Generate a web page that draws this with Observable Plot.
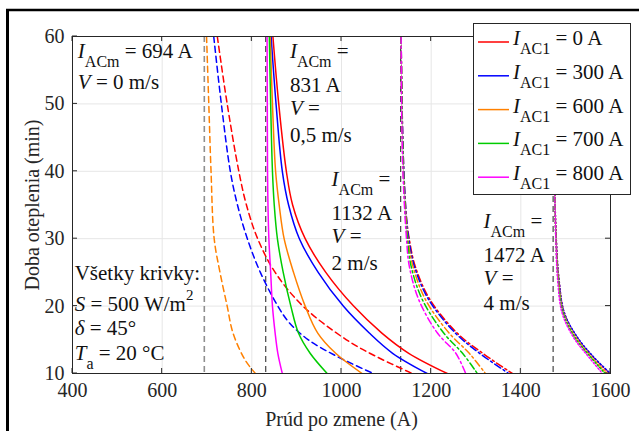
<!DOCTYPE html>
<html><head><meta charset="utf-8">
<script src="https://cdn.jsdelivr.net/npm/d3@7"></script>
<script src="https://cdn.jsdelivr.net/npm/@observablehq/plot@0.6"></script>
<style>
body{margin:0;background:#fff;}
#wrap{position:relative;width:639px;height:431px;overflow:hidden;background:#fff;}
</style></head><body><div id="wrap"></div>
<script>
// ---- data ----
const xTicks = [400, 600, 800, 1000, 1200, 1400, 1600];
const yTicks = [10, 20, 30, 40, 50, 60];
const seriesLabels = ["0 A", "300 A", "600 A", "700 A", "800 A"];
const seriesColors = ["#ff0000", "#0000ff", "#ff8000", "#00cc00", "#ff00ff"];
const asymptotes = [694, 831, 1132, 1472];

// V = 0 m/s (dashed), only I_AC1 = 0, 300, 600 A
const tV0r = [60, 50, 40, 35, 30, 25, 20, 15, 12.5, 10];
const iV0_0   = [723, 745, 771, 788, 813, 852, 914, 1011, 1078, 1158];
const tV0b = [60, 50, 40, 35, 30, 25, 20, 17.5, 15, 12.5, 10];
const iV0_300 = [715, 732, 752, 768, 790, 819, 858, 884, 926, 991, 1071];
const tV0o = [60, 50, 40, 30, 25, 20, 16, 12, 10];
const iV0_600 = [699, 704, 709, 716, 729, 745, 758, 785, 808];

// V = 0,5 m/s (solid)
const tV05 = [60, 50, 40, 35, 30, 25, 20, 16, 13, 10];
const iV05_0   = [847, 860, 877, 891, 919, 965, 1027, 1090, 1150, 1236];
const iV05_300 = [843, 854, 868, 882, 906, 948, 1004, 1062, 1114, 1191];
const iV05_600 = [841, 846, 853, 861, 872, 893, 919, 947, 987, 1046];
const iV05_700 = [839, 842, 846, 850, 857, 870, 887, 904, 930, 968];
const iV05_800 = [834, 834.5, 835, 836, 838, 842, 846, 852, 858, 868];

// V = 2 m/s (dash-dot)
const tV2 = [60, 50, 40, 33, 30, 26, 21, 16, 13, 10];
const iV2_0   = [1133, 1135, 1139, 1145, 1151, 1164, 1197, 1258, 1315, 1381];
const iV2_300 = [1133, 1135, 1139, 1145, 1150, 1162, 1194, 1254, 1308, 1373];
const iV2_600 = [1133, 1134.5, 1138, 1144, 1148, 1159, 1187, 1240, 1285, 1321];
const iV2_700 = [1133, 1134.5, 1138, 1143, 1147, 1155, 1180, 1228, 1270, 1303];
const iV2_800 = [1133, 1134, 1137, 1142, 1145, 1151, 1172, 1214, 1255, 1277];

// V = 4 m/s (dotted)
const tV4 = [60, 50, 40, 30, 24, 19, 15.4, 12.4, 10];
const iV4_0   = [1473, 1474, 1475, 1479, 1485, 1497, 1525, 1562, 1598];
const iV4_300 = [1473, 1474, 1475, 1479, 1485, 1497, 1526, 1563, 1600];
const iV4_600 = [1473, 1474, 1475, 1478.5, 1484, 1495, 1522, 1558, 1592];
const iV4_700 = [1473, 1474, 1475, 1478, 1483, 1494, 1520, 1556, 1588];
const iV4_800 = [1473, 1474, 1475, 1478, 1482, 1492, 1517, 1552, 1582];

// annotation text (x in A, y in min = baseline position)
const notes = [
  {x: 413, t: 56.74, parts: [["I","i"],["ACm","sub"],[" = 694 A",""]]},
  {x: 413, t: 52.14, parts: [["V","i"],[" = 0 m/s",""]]},
  {x: 886, t: 56.74, parts: [["I","i"],["ACm","sub"],[" =",""]]},
  {x: 886, t: 51.69, parts: [["831 A",""]]},
  {x: 886, t: 48.28, parts: [["V","i"],[" =",""]]},
  {x: 886, t: 44.27, parts: [["0,5 m/s",""]]},
  {x: 979, t: 37.74, parts: [["I","i"],["ACm","sub"],[" =",""]]},
  {x: 979, t: 32.70, parts: [["1132 A",""]]},
  {x: 979, t: 29.29, parts: [["V","i"],[" =",""]]},
  {x: 979, t: 25.28, parts: [["2 m/s",""]]},
  {x: 1318, t: 31.51, parts: [["I","i"],["ACm","sub"],[" =",""]]},
  {x: 1318, t: 26.47, parts: [["1472 A",""]]},
  {x: 1318, t: 23.06, parts: [["V","i"],[" =",""]]},
  {x: 1318, t: 19.35, parts: [["4 m/s",""]]},
  {x: 406, t: 23.80, parts: [["Všetky krivky:",""]]},
  {x: 406, t: 19.20, parts: [["S","i"],[" = 500 W/m",""],["2","sup"]]},
  {x: 406, t: 15.64, parts: [["δ","i"],[" = 45°",""]]},
  {x: 406, t: 11.93, parts: [["T","i"],["a","sub"],[" = 20 °C",""]]}
];

// ---- build curves ----
const curves = [
  {t: tV0r, i: iV0_0,   k: 0, dash: "6,4"},
  {t: tV0b, i: iV0_300, k: 1, dash: "6,4"},
  {t: tV0o, i: iV0_600, k: 2, dash: "6,4"},
  {t: tV05, i: iV05_0, k: 0}, {t: tV05, i: iV05_300, k: 1}, {t: tV05, i: iV05_600, k: 2},
  {t: tV05, i: iV05_700, k: 3}, {t: tV05, i: iV05_800, k: 4},
  {t: tV2, i: iV2_0, k: 0, dash: "7,3,2,3"}, {t: tV2, i: iV2_300, k: 1, dash: "7,3,2,3"},
  {t: tV2, i: iV2_600, k: 2, dash: "7,3,2,3"}, {t: tV2, i: iV2_700, k: 3, dash: "7,3,2,3"},
  {t: tV2, i: iV2_800, k: 4, dash: "7,3,2,3"},
  {t: tV4, i: iV4_0, k: 0, dash: "1.5,2"}, {t: tV4, i: iV4_300, k: 1, dash: "1.5,2"},
  {t: tV4, i: iV4_600, k: 2, dash: "1.5,2"}, {t: tV4, i: iV4_700, k: 3, dash: "1.5,2"},
  {t: tV4, i: iV4_800, k: 4, dash: "1.5,2"}
];
const lineMarks = curves.map(c => {
  const rows = c.i.map((v, j) => ({I: v, t: c.t[j]}));
  const opts = {x: "I", y: "t", stroke: seriesColors[c.k], strokeWidth: 1.5, curve: "catmull-rom", clip: true};
  if (c.dash) opts.strokeDasharray = c.dash;
  return Plot.line(rows, opts);
});

const asymStyle = asymptotes.map((a, j) => ({c: j === 0 ? "#8f8f8f" : "#333333", w: j === 0 ? 1.6 : 1.1}));

const FONT = "'Liberation Serif', 'Times New Roman', serif";
const plot = Plot.plot({
  width: 639, height: 431,
  marginLeft: 72, marginRight: 29, marginTop: 36, marginBottom: 58,
  x: {domain: [400, 1600], label: null},
  y: {domain: [10, 60], label: null},
  style: {fontFamily: FONT, fontSize: "20px", color: "#262626", background: "white"},
  marks: [
    Plot.ruleX(xTicks, {stroke: "#e6e6e6", strokeWidth: 1}),
    Plot.ruleY(yTicks, {stroke: "#e6e6e6", strokeWidth: 1}),
    ...asymptotes.map((a, j) => Plot.ruleX([a], {stroke: asymStyle[j].c, strokeWidth: asymStyle[j].w, strokeDasharray: "6,4"})),
    ...lineMarks,
    Plot.frame({stroke: "#262626", strokeWidth: 1}),
    Plot.axisX({ticks: xTicks, tickSize: 0, tickPadding: 9, fontSize: 20, tickFormat: d => String(d)}),
    Plot.axisY({ticks: yTicks, tickSize: 0, tickPadding: 8, fontSize: 20}),
    Plot.text(["Prúd po zmene (A)"], {frameAnchor: "bottom", dy: 52, fontSize: 20, fill: "#262626"}),
    Plot.text(["Doba oteplenia (min)"], {frameAnchor: "left", dx: -40, rotate: -90, textAnchor: "middle", fontSize: 20, fill: "#262626"})
  ]
});
document.getElementById("wrap").appendChild(plot);

// ---- decorations using plot scales ----
const sx = plot.scale("x"), sy = plot.scale("y");
const svg = d3.select(plot);
const X0 = sx.apply(400), X1 = sx.apply(1600), Y0 = sy.apply(10), Y1 = sy.apply(60);
const tk = svg.append("g").attr("stroke", "#262626").attr("stroke-width", 1);
xTicks.forEach(v => {
  const x = sx.apply(v);
  tk.append("line").attr("x1", x).attr("x2", x).attr("y1", Y0).attr("y2", Y0 - 5);
  tk.append("line").attr("x1", x).attr("x2", x).attr("y1", Y1).attr("y2", Y1 + 5);
});
yTicks.forEach(v => {
  const y = sy.apply(v);
  tk.append("line").attr("x1", X0).attr("x2", X0 + 5).attr("y1", y).attr("y2", y);
  tk.append("line").attr("x1", X1).attr("x2", X1 - 5).attr("y1", y).attr("y2", y);
});

function rich(g, x, y, parts, size) {
  const t = g.append("text").attr("x", x).attr("y", y)
    .attr("font-family", FONT).attr("text-anchor", "start")
    .attr("font-size", size).attr("fill", "#111").style("white-space", "pre");
  let shift = 0;
  parts.forEach(([s, st]) => {
    const sp = t.append("tspan").text(s);
    let target = 0;
    if (st === "sub") { target = 9; sp.attr("font-size", 16); }
    if (st === "sup") { target = -11; sp.attr("font-size", 15); }
    if (st === "i") sp.attr("font-style", "italic");
    if (target - shift !== 0) sp.attr("dy", target - shift);
    shift = target;
  });
  return t;
}
const ann = svg.append("g");
notes.forEach(n => rich(ann, sx.apply(n.x), sy.apply(n.t), n.parts, 21));

// legend
const lg = svg.append("g");
lg.append("rect").attr("x", 473.5).attr("y", 23.5).attr("width", 157).attr("height", 171)
  .attr("fill", "white").attr("stroke", "#262626").attr("stroke-width", 1);
seriesLabels.forEach((lab, k) => {
  const cy = 42 + k * 33.8;
  lg.append("line").attr("x1", 478).attr("x2", 509).attr("y1", cy).attr("y2", cy)
    .attr("stroke", seriesColors[k]).attr("stroke-width", 1.5);
  rich(lg, 513, cy + 3, [["I","i"],["AC1","sub"],[" = " + lab, ""]], 21);
});

// outer frame fragments
svg.append("line").attr("x1", 6).attr("x2", 639).attr("y1", 10).attr("y2", 10).attr("stroke", "#000").attr("stroke-width", 2.5);
svg.append("line").attr("x1", 7.5).attr("x2", 7.5).attr("y1", 9).attr("y2", 431).attr("stroke", "#000").attr("stroke-width", 3);
</script></body></html>
